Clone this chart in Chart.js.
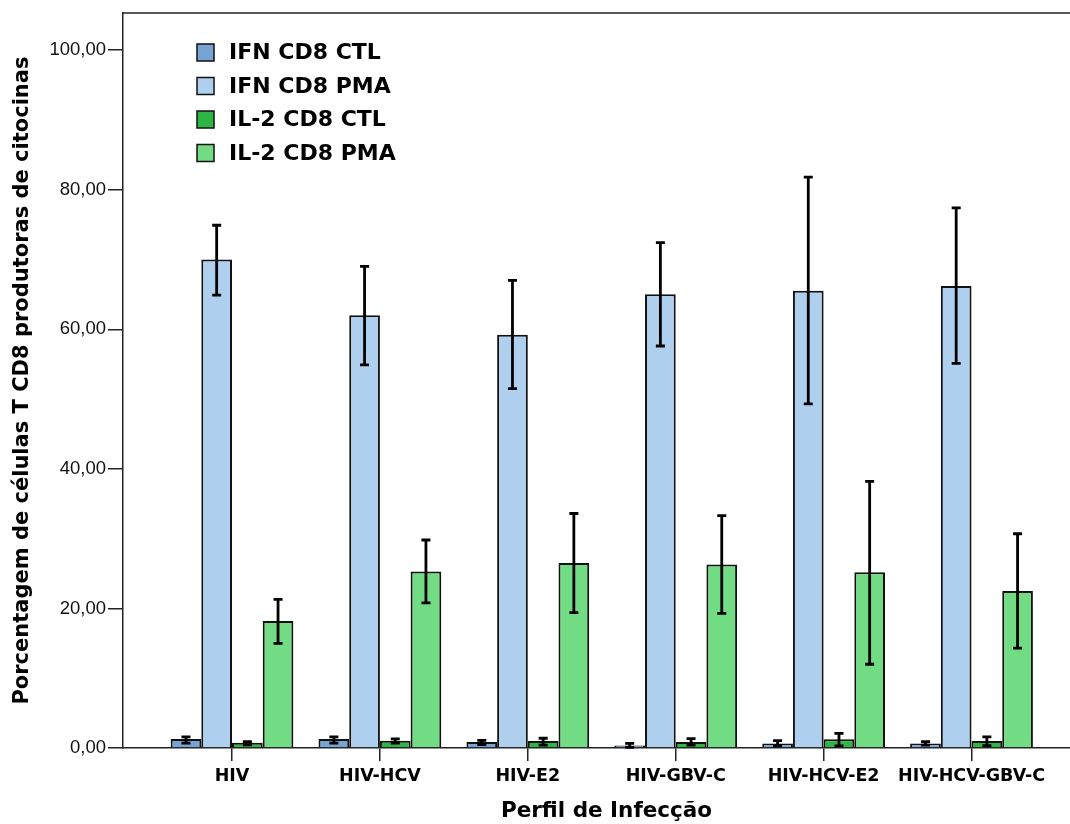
<!DOCTYPE html>
<html>
<head>
<meta charset="utf-8">
<script src="https://cdn.jsdelivr.net/npm/chart.js@4/dist/chart.umd.min.js"></script>
<style>
  html, body { margin: 0; padding: 0; background: #fff; overflow: hidden; }
  canvas { display: block; }
</style>
</head>
<body>
<canvas id="cd8Chart" width="1090" height="824" style="width:1090px;height:824px"></canvas>
<script>
// Categories (infection profile)
const categories = ['HIV', 'HIV-HCV', 'HIV-E2', 'HIV-GBV-C', 'HIV-HCV-E2', 'HIV-HCV-GBV-C'];

// Means (%)
const ifnCtl = [1.3, 1.3, 0.85, 0.35, 0.65, 0.65];
const ifnPma = [70.0, 62.0, 59.2, 65.0, 65.5, 66.2];
const il2Ctl = [0.75, 1.05, 1.0, 0.85, 1.25, 1.0];
const il2Pma = [18.2, 25.3, 26.5, 26.3, 25.2, 22.5];

// Error bar limits
const ifnCtlLow  = [0.7, 0.7, 0.5, 0.1, 0.3, 0.4];
const ifnCtlHigh = [1.6, 1.6, 1.1, 0.65, 1.05, 0.9];
const ifnPmaLow  = [64.9, 54.9, 51.5, 57.6, 49.3, 55.1];
const ifnPmaHigh = [74.9, 69.0, 67.0, 72.4, 81.8, 77.4];
const il2CtlLow  = [0.45, 0.7, 0.4, 0.4, 0.3, 0.35];
const il2CtlHigh = [0.9, 1.3, 1.4, 1.35, 2.1, 1.6];
const il2PmaLow  = [15.0, 20.8, 19.4, 19.3, 12.0, 14.3];
const il2PmaHigh = [21.3, 29.8, 33.6, 33.3, 38.2, 30.7];

const yTicks = [0, 20, 40, 60, 80, 100];

const colors = {
    ifnCtl: '#77a4d3',
    ifnPma: '#aed0ee',
    il2Ctl: '#2eb645',
    il2Pma: '#71dc83'
};

function series(label, values, low, high, color) {
    return {
        label: label,
        data: values.map((v, i) => ({ x: i, y: v })),
        errLow: low,
        errHigh: high,
        backgroundColor: color,
        borderColor: '#111',
        borderWidth: 2,
        categoryPercentage: 0.83,
        barPercentage: 1.0
    };
}

// Error bars drawn from the y scale
const errorBars = {
    id: 'errorBars',
    afterDatasetsDraw(chart) {
        const ctx = chart.ctx;
        const y = chart.scales.y;
        ctx.save();
        ctx.strokeStyle = '#000';
        ctx.lineWidth = 2.8;
        chart.data.datasets.forEach((ds, d) => {
            chart.getDatasetMeta(d).data.forEach((bar, i) => {
                const yl = y.getPixelForValue(ds.errLow[i]);
                const yh = y.getPixelForValue(ds.errHigh[i]);
                ctx.beginPath();
                ctx.moveTo(bar.x, yl); ctx.lineTo(bar.x, yh);
                ctx.moveTo(bar.x - 4.5, yl); ctx.lineTo(bar.x + 4.5, yl);
                ctx.moveTo(bar.x - 4.5, yh); ctx.lineTo(bar.x + 4.5, yh);
                ctx.stroke();
            });
        });
        ctx.restore();
    }
};

// Top frame line + legend inside plot area
const frameAndLegend = {
    id: 'frameAndLegend',
    afterDraw(chart) {
        const ctx = chart.ctx;
        const area = chart.chartArea;
        ctx.save();
        ctx.strokeStyle = '#222';
        ctx.lineWidth = 1.5;
        ctx.beginPath();
        ctx.moveTo(area.left, area.top);
        ctx.lineTo(chart.width, area.top);
        ctx.stroke();

        ctx.font = 'bold 22px "DejaVu Sans"';
        ctx.textBaseline = 'middle';
        ctx.textAlign = 'left';
        chart.data.datasets.forEach((ds, i) => {
            const cy = 52.5 + i * 33.5;
            ctx.fillStyle = ds.backgroundColor;
            ctx.fillRect(197, cy - 8.5, 17, 17);
            ctx.strokeStyle = '#111';
            ctx.lineWidth = 1.5;
            ctx.strokeRect(197, cy - 8.5, 17, 17);
            ctx.fillStyle = '#000';
            ctx.fillText(ds.label, 229, cy + 1);
        });
        ctx.restore();
    }
};

Chart.defaults.font.family = '"DejaVu Sans", Verdana, sans-serif';
Chart.defaults.color = '#000';

new Chart(document.getElementById('cd8Chart'), {
    type: 'bar',
    data: {
        datasets: [
            series('IFN CD8 CTL', ifnCtl, ifnCtlLow, ifnCtlHigh, colors.ifnCtl),
            series('IFN CD8 PMA', ifnPma, ifnPmaLow, ifnPmaHigh, colors.ifnPma),
            series('IL-2 CD8 CTL', il2Ctl, il2CtlLow, il2CtlHigh, colors.il2Ctl),
            series('IL-2 CD8 PMA', il2Pma, il2PmaLow, il2PmaHigh, colors.il2Pma)
        ]
    },
    options: {
        responsive: false,
        animation: false,
        devicePixelRatio: 1,
        layout: { padding: { top: 12, left: 0, right: 0, bottom: 0 } },
        plugins: {
            legend: { display: false },
            tooltip: { enabled: false }
        },
        scales: {
            x: {
                type: 'linear',
                offset: false,
                min: -0.737,
                max: 5.801,
                afterBuildTicks: s => { s.ticks = categories.map((c, i) => ({ value: i })); },
                afterFit: s => { s.height = 76; },
                ticks: {
                    callback: v => categories[v],
                    font: { size: 17.5, weight: 'bold' },
                    color: '#000',
                    padding: 5,
                    maxRotation: 0,
                    autoSkip: false
                },
                grid: { offset: false, drawOnChartArea: false, drawTicks: true, tickLength: 13, color: '#222', lineWidth: 1.5 },
                border: { display: true, color: '#222', width: 1.5 },
                title: {
                    display: true,
                    text: 'Perfil de Infecção',
                    font: { size: 21.5, weight: 'bold' },
                    color: '#000',
                    padding: { top: 0, bottom: 0 }
                }
            },
            y: {
                min: 0,
                max: 105.3,
                afterBuildTicks: s => { s.ticks = yTicks.map(v => ({ value: v })); },
                afterFit: s => { s.width = 123; },
                ticks: {
                    callback: v => v.toFixed(2).replace('.', ','),
                    font: { family: '"Liberation Sans", Arial, sans-serif', size: 18.5 },
                    color: '#111',
                    padding: 2
                },
                grid: { drawOnChartArea: false, drawTicks: true, tickLength: 15, color: '#222', lineWidth: 1.5 },
                border: { display: true, color: '#222', width: 1.5 },
                title: {
                    display: true,
                    text: 'Porcentagem de células T CD8 produtoras de citocinas',
                    font: { size: 21, weight: 'bold' },
                    color: '#000',
                    padding: { top: 10, bottom: 0 }
                }
            }
        }
    },
    plugins: [errorBars, frameAndLegend]
});
</script>
</body>
</html>
